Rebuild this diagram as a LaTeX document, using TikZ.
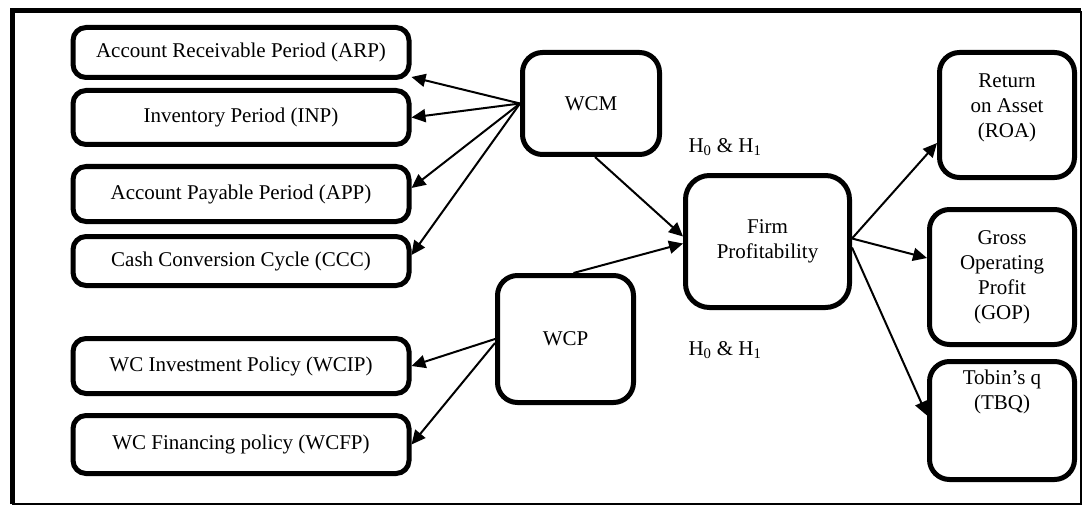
\documentclass[tikz,border=0pt]{standalone}
\usepackage{fontspec}
\setmainfont{Liberation Serif}
\usetikzlibrary{arrows.meta}
\begin{document}
\begin{tikzpicture}[x=1pt,y=-1pt,
  every node/.style={font=\fontsize{21}{25}\selectfont},
  lbox/.style={draw,line width=5pt,rounded corners=13pt,minimum width=336pt,inner sep=0pt},
  cbox/.style={draw,line width=5pt,rounded corners=20pt,align=center,inner sep=0pt},
  plain/.style={inner sep=0pt,align=center},
  arr/.style={line width=2pt,-{Triangle[length=14pt,width=13pt]}}]
\useasboundingbox (0,0) rectangle (1087,508);
% frame
\draw[line width=2pt] (12,504) -- (1081,504) -- (1081,11);
\draw[line width=5pt] (12,504) -- (12,11) -- (1081,11);
% left boxes
\node[lbox,minimum height=50pt] (arp) at (241,52.5) {Account Receivable Period (ARP)};
\node[lbox,minimum height=54pt] (inp) at (241,117.5) {Inventory Period (INP)};
\node[lbox,minimum height=55pt] (app) at (241,194) {Account Payable Period (APP)};
\node[lbox,minimum height=49pt] (ccc) at (241,261) {Cash Conversion Cycle (CCC)};
\node[lbox,minimum height=55pt] (wcip) at (241,366) {WC Investment Policy (WCIP)};
\node[lbox,minimum height=58pt] (wcfp) at (241,444.5) {WC Financing policy (WCFP)};
% middle
\node[cbox,minimum width=137pt,minimum height=102pt] (wcm) at (591,103.5) {WCM};
\node[cbox,minimum width=136pt,minimum height=127pt] (wcp) at (565.5,339) {WCP};
\node[cbox,rounded corners=24pt,minimum width=164pt,minimum height=132pt] (firm) at (767.5,241.5) {Firm\\Profitability};
\node[plain] (h1) at (725,147) {H\textsubscript{0} \& H\textsubscript{1}};
\node[plain] (h2) at (725,350) {H\textsubscript{0} \& H\textsubscript{1}};
% right
\node[cbox,minimum width=135pt,minimum height=125pt] (roa) at (1007,115) {};
\node[plain] (roatext) at (1007,108) {Return\\on Asset\\(ROA)};
\node[cbox,minimum width=145pt,minimum height=135pt] (gop) at (1002,277) {Gross\\Operating\\Profit\\(GOP)};
\node[cbox,minimum width=145pt,minimum height=118pt] (tbq) at (1002,420.5) {};
\node[plain] (tbqtext) at (1002,392) {Tobin’s q\\(TBQ)};
% arrows
\draw[arr] (wcm.west) -- ([yshift=3pt]arp.south east);
\draw[arr] (wcm.west) -- (inp.east);
\draw[arr] (wcm.west) -- ([yshift=6pt]app.east);
\draw[arr] (wcm.west) -- ([yshift=6pt]ccc.east);
\draw[arr] (wcp.west) -- (wcip.east);
\draw[arr] ([yshift=-4pt]wcp.west) -- (wcfp.east);
\draw[arr] ([xshift=4pt]wcm.south) -- ([yshift=5pt]firm.west);
\draw[arr] ([xshift=8pt]wcp.north) -- ([yshift=-2pt]firm.west);
\draw[arr] ([yshift=3pt]firm.east) -- ([yshift=-28pt]roa.west);
\draw[arr] ([yshift=3pt]firm.east) -- ([yshift=19pt]gop.west);
\draw[arr] ([yshift=-6pt]firm.east) -- ([yshift=5pt]tbq.west);
\end{tikzpicture}
\end{document}
